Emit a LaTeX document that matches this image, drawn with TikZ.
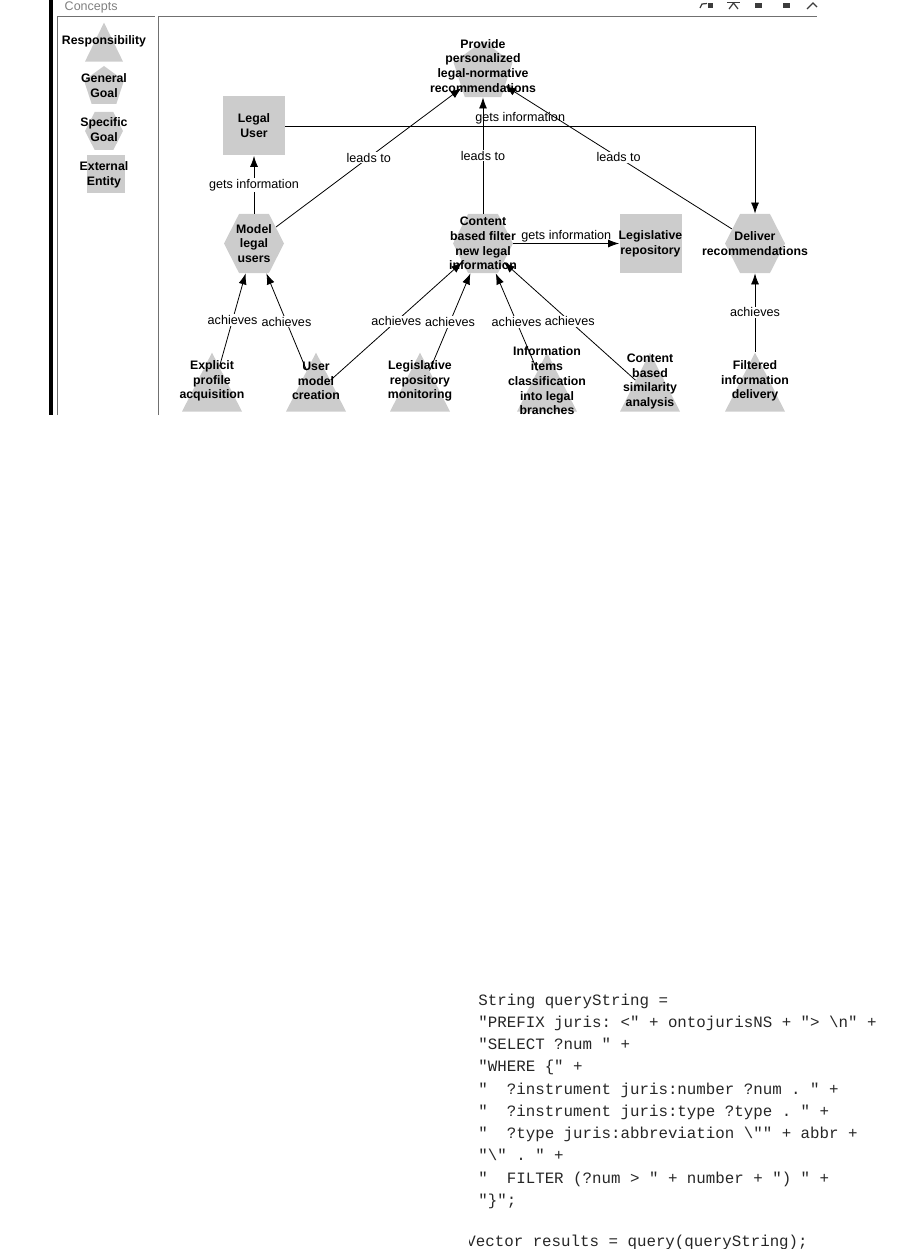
\documentclass[tikz,border=0pt]{standalone}
\usepackage{fontspec}
\setmainfont{Liberation Sans}
\setmonofont{Liberation Mono}
\usetikzlibrary{positioning,arrows.meta,shapes.geometric,shapes.symbols}
\definecolor{conceptgray}{RGB}{204,204,204}
\definecolor{panelgray}{RGB}{112,112,112}
\definecolor{titlegray}{RGB}{128,128,128}
\definecolor{icongray}{RGB}{60,60,60}
\tikzstyle{resp} = [isosceles triangle, shape border rotate=90,
    isosceles triangle stretches, fill=conceptgray, inner sep=0pt,
    minimum width=60pt, minimum height=59pt, anchor=lower side]
\tikzstyle{ggoal} = [regular polygon, regular polygon sides=5,
    fill=conceptgray, inner sep=0pt, minimum size=62pt]
\tikzstyle{sgoal} = [signal, signal to=west and east, signal pointer angle=126,
    fill=conceptgray, inner sep=0pt, minimum width=60pt, minimum height=59pt]
\tikzstyle{entity} = [rectangle, fill=conceptgray, inner sep=0pt,
    minimum width=62pt, minimum height=59pt]
\tikzstyle{ctext} = [font=\fontsize{12.3}{14.8}\selectfont\bfseries,
    align=center, inner sep=0pt]
\tikzstyle{rel} = [font=\fontsize{12.6}{15}\selectfont, fill=white, inner sep=1pt]
\tikzstyle{codeline} = [font=\fontsize{15.8}{22}\selectfont\ttfamily,
    text=black!85, anchor=base west, inner sep=0pt]

\begin{document}
\begin{tikzpicture}[x=1pt, y=-1pt, >={Latex[length=11pt,width=8pt]}, line width=0.8pt]
  \useasboundingbox (0,0) rectangle (901,1249);

  % window frame
  \fill (49,0) rectangle (53,415);
  \draw[panelgray, line width=1pt] (57.5,415) -- (57.5,16.5) -- (155,16.5);
  \draw[panelgray, line width=1pt] (158.5,415) -- (158.5,16.5) -- (817,16.5);
  \node[anchor=west, text=titlegray, font=\fontsize{12.5}{13}\selectfont] (concepts) at (61,7) {Concepts};
  \fill[icongray] (708,3) rectangle (713,8);
  \draw[icongray, line width=1.2pt] (700,8) -- (702,4) -- (707,3.5);
  \draw[icongray, line width=1.2pt] (727,2.5) -- (740,2.5);
  \draw[icongray, line width=1.2pt] (729,9) -- (733.5,3) -- (738,9);
  \fill[icongray] (755,3) rectangle (762,8);
  \fill[icongray] (783,3) rectangle (790,8);
  \draw[icongray, line width=1.2pt] (807,9) -- (813,3) -- (817,7);

  % legend
  \node[resp, minimum width=38pt, minimum height=39pt] (legresp) at (104,62) {};
  \node[ggoal, minimum size=42pt] (legggoal) at (104,87) {};
  \node[sgoal, minimum width=38pt, minimum height=38pt] (legsgoal) at (104,131) {};
  \node[entity, minimum width=38pt, minimum height=38pt] (legent) at (106,174) {};
  \node[ctext] (legresptext) at (104,41) {Responsibility};
  \node[ctext] (legggoaltext) at (104,86) {General\\Goal};
  \node[ctext] (legsgoaltext) at (104,130) {Specific\\Goal};
  \node[ctext] (legenttext) at (104,175) {External\\Entity};

  % concepts
  \node[ggoal] (ppr) at (483,72) {};
  \node[entity] (lu) at (254,126) {};
  \node[sgoal] (mlu) at (254,243.5) {};
  \node[sgoal] (cbf) at (483,243.5) {};
  \node[entity] (lr) at (650.5,243.5) {};
  \node[sgoal] (dr) at (755,243.5) {};
  \node[resp] (efa) at (212,412) {};
  \node[resp] (umc) at (316,412) {};
  \node[resp] (lrm) at (420,412) {};
  \node[resp] (iic) at (547,412) {};
  \node[resp] (cbs) at (650,412) {};
  \node[resp] (fid) at (755,412) {};

  \node[ctext] (pprtext) at ([yshift=6pt]ppr) {Provide\\personalized\\legal-normative\\recommendations};
  \node[ctext] (lutext) at (lu) {Legal\\User};
  \node[ctext] (mlutext) at (mlu) {Model\\legal\\users};
  \node[ctext] (cbftext) at (cbf) {Content\\based filter\\new legal\\information};
  \node[ctext] (lrtext) at (lr) {Legislative\\repository};
  \node[ctext] (drtext) at (dr) {Deliver\\recommendations};
  \node[ctext] (efatext) at ([yshift=31pt]efa.lower side) {Explicit\\profile\\acquisition};
  \node[ctext] (umctext) at ([yshift=31pt]umc.lower side) {User\\model\\creation};
  \node[ctext] (lrmtext) at ([yshift=31pt]lrm.lower side) {Legislative\\repository\\monitoring};
  \node[ctext] (iictext) at ([yshift=31pt]iic.lower side) {Information\\items\\classification\\into legal\\branches};
  \node[ctext] (cbstext) at ([yshift=30.5pt]cbs.lower side) {Content\\based\\similarity\\analysis};
  \node[ctext] (fidtext) at ([yshift=31pt]fid.lower side) {Filtered\\information\\delivery};

  % relations
  \draw[->] (mlu) -- node[rel] {gets information} (lu);
  \draw[->] (mlu) -- node[rel] {leads to} (ppr);
  \draw[->] (cbf) -- node[rel] {leads to} (ppr);
  \draw[->] (dr) -- node[rel] {leads to} (ppr);
  \draw[->] (lu) -| node[rel, pos=0.25, above, fill=none] {gets information} (dr);
  \draw[->] (cbf) -- node[rel, above, fill=none] {gets information} (lr);
  \draw[->] (efa) -- node[rel] {achieves} (mlu);
  \draw[->] (umc) -- node[rel] {achieves} (mlu);
  \draw[->] (umc) -- node[rel] {achieves} (cbf);
  \draw[->] (lrm) -- node[rel] {achieves} (cbf);
  \draw[->] (iic) -- node[rel] {achieves} (cbf);
  \draw[->] (cbs) -- node[rel] {achieves} (cbf);
  \draw[->] (fid) -- node[rel] {achieves} (dr);

  % query listing
  \node[codeline] (code1) at (478,1005) {String queryString =};
  \node[codeline] (code2) at (478,1027.25) {"PREFIX juris: <" + ontojurisNS + "> \textbackslash n" +};
  \node[codeline] (code3) at (478,1049.5) {"SELECT ?num " +};
  \node[codeline] (code4) at (478,1071.75) {"WHERE \{" +};
  \node[codeline] (code5) at (478,1094) {"\ \ ?instrument juris:number ?num . " +};
  \node[codeline] (code6) at (478,1116.25) {"\ \ ?instrument juris:type ?type . " +};
  \node[codeline] (code7) at (478,1138.5) {"\ \ ?type juris:abbreviation \textbackslash"" + abbr +};
  \node[codeline] (code8) at (478,1160.75) {"\textbackslash" . " +};
  \node[codeline] (code9) at (478,1183) {"\ \ FILTER (?num > " + number + ") " +};
  \node[codeline] (code10) at (478,1205.25) {"\}";};
  \begin{scope}
    \clip (469,1225) rectangle (901,1249);
    \node[codeline] (code11) at (466,1246.5) {Vector results = query(queryString);};
  \end{scope}
\end{tikzpicture}
\end{document}
